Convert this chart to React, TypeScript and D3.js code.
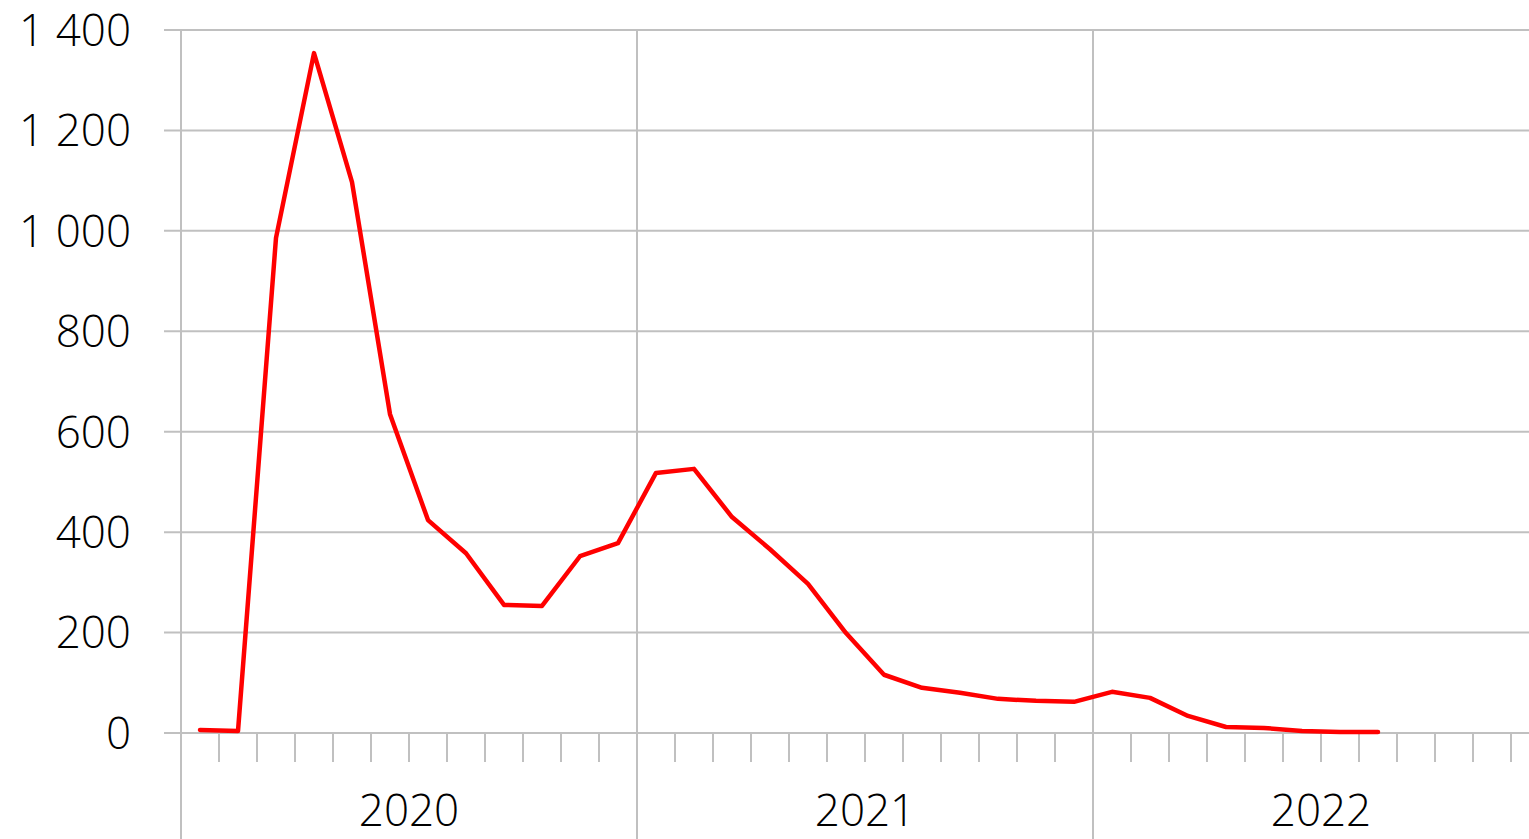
import React from 'react';
import * as d3 from 'd3';

// monthly values, Jan 2020 .. Aug 2022
const values = [
  6, 4, 986, 1354, 1097, 635, 424, 358, 255, 253, 352, 378,
  518, 526, 430, 366, 297, 199, 116, 90, 80, 68, 64, 62,
  82, 70, 34, 12, 10, 4, 2, 2,
];
const years = ['2020', '2021', '2022'];
const yTicks = [0, 200, 400, 600, 800, 1000, 1200, 1400];

const W = 1529;
const H = 839;
const left = 181;
const monthW = 38;
const top = 30;
const bottom = 733;

const fmt = (v: number) => d3.format(',')(v).replace(/,/g, ' ');

const App = () => {
  const nMonths = years.length * 12;
  const x = d3.scaleLinear().domain([0, nMonths]).range([left, left + nMonths * monthW]);
  const y = d3.scaleLinear().domain([0, 1400]).range([bottom, top]);

  const line = d3
    .line<number>()
    .x((d, i) => x(i + 0.5))
    .y(d => y(d));

  const grid = '#c0c0c0';
  const font = '"Open Sans", sans-serif';

  return (
    <svg
      width={W}
      height={H}
      style={{ position: 'absolute', left: 0, top: 0, background: '#fff' }}
    >
      {/* horizontal gridlines + y labels */}
      {yTicks.map(t => (
        <g key={t}>
          <line x1={164} x2={W} y1={y(t)} y2={y(t)} stroke={grid} strokeWidth={2} />
          <text
            x={131}
            y={y(t)}
            dy="0.36em"
            textAnchor="end"
            fontFamily={font}
            fontWeight={300}
            fontSize={44}
            fill="#000"
          >
            {fmt(t)}
          </text>
        </g>
      ))}

      {/* month ticks */}
      {d3.range(nMonths + 1).map(i => (
        <line
          key={'m' + i}
          x1={x(i)}
          x2={x(i)}
          y1={bottom}
          y2={762}
          stroke={grid}
          strokeWidth={2}
        />
      ))}

      {/* year separators and labels */}
      {years.map((yr, k) => (
        <g key={yr}>
          <line
            x1={x(k * 12)}
            x2={x(k * 12)}
            y1={top}
            y2={H}
            stroke={grid}
            strokeWidth={2}
          />
          <text
            x={x(k * 12 + 6)}
            y={826}
            textAnchor="middle"
            fontFamily={font}
            fontWeight={300}
            fontSize={44}
            fill="#000"
          >
            {yr}
          </text>
        </g>
      ))}

      <path
        d={line(values) || ''}
        fill="none"
        stroke="#ff0000"
        strokeWidth={4.5}
        strokeLinecap="round"
        strokeLinejoin="round"
      />
    </svg>
  );
};

export default App;
